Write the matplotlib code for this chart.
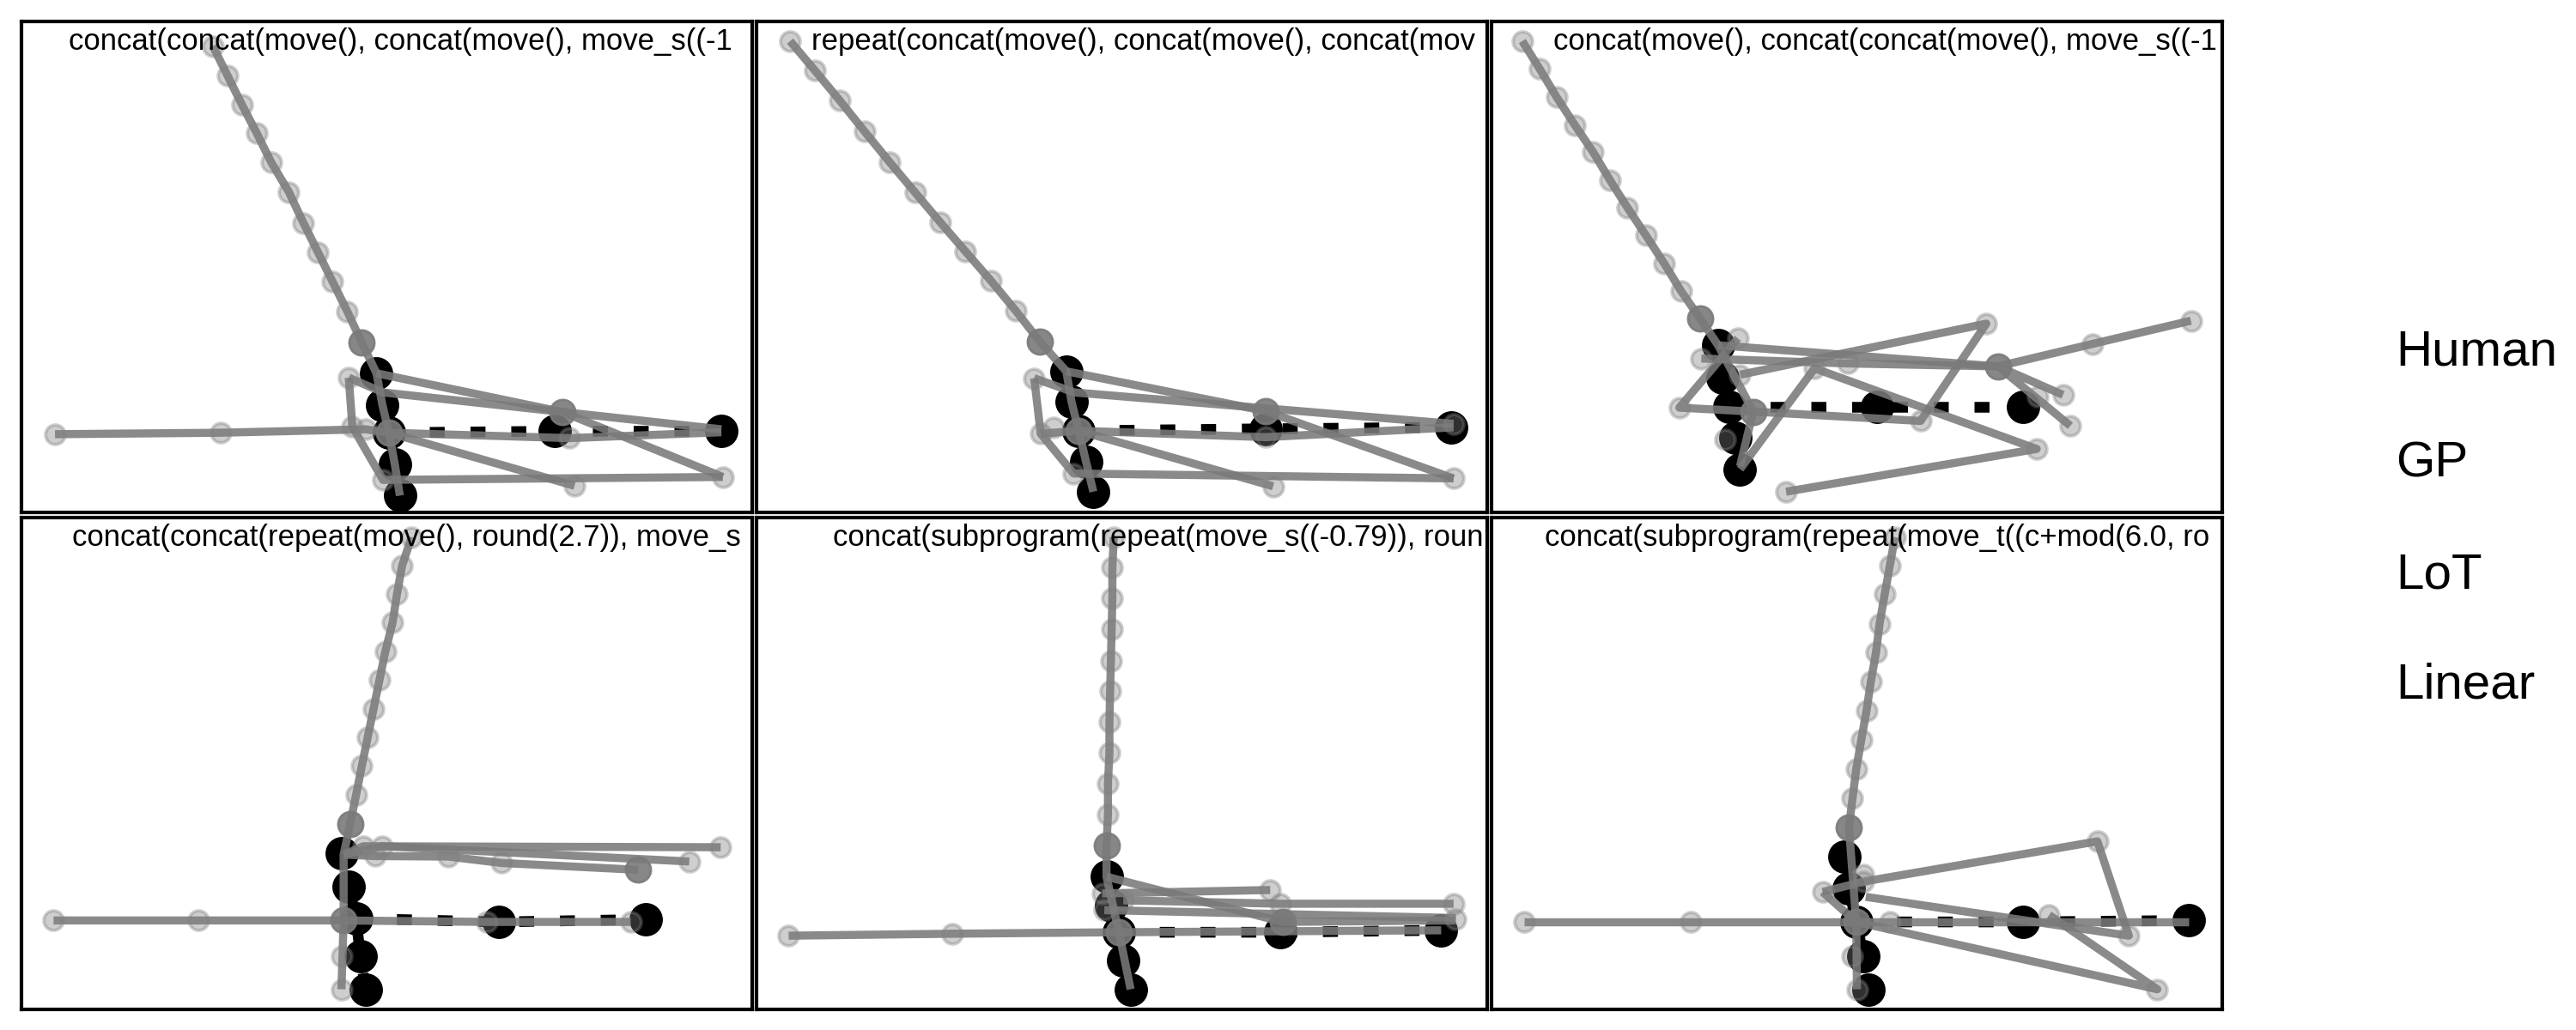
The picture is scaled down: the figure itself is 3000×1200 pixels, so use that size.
import matplotlib
matplotlib.use("Agg")
import matplotlib.pyplot as plt

plt.rcParams['font.family'] = ['Liberation Sans', 'DejaVu Sans']

# panel titles (programs), clipped at the panel edge like the original
titles = [
    "concat(concat(move(), concat(move(), move_s((-1",
    "repeat(concat(move(), concat(move(), concat(mov",
    "concat(move(), concat(concat(move(), move_s((-1",
    "concat(concat(repeat(move(), round(2.7)), move_s",
    "concat(subprogram(repeat(move_s((-0.79)), roun",
    "concat(subprogram(repeat(move_t((c+mod(6.0, ro",
]
title_x = [0.065, 0.075, 0.084, 0.069, 0.104, 0.073]
legend_labels = ["Human", "GP", "LoT", "Linear"]

# ---- panel 1 ----
p1_lines = [
    [(26.2, 95.0), (28.2, 89.0), (30.2, 83.0), (32.2, 77.3), (34.2, 71.3), (36.6, 65.3), (38.6, 59.0),
     (40.6, 53.0), (42.6, 47.0), (44.6, 41.0), (46.6, 34.6), (48.6, 28.4), (49.4, 22.0), (50.3, 16.3),
     (51.1, 9.9), (51.8, 3.5)],
    [(48.6, 28.4), (74.1, 20.5), (96.0, 7.3)],
    [(44.8, 27.5), (45.3, 17.5), (49.5, 6.7), (96.0, 7.3)],
    [(44.8, 27.5), (49.5, 24.5), (95.8, 17.0)],
    [(50.3, 16.3), (75.7, 5.5)],
    [(4.6, 16.0), (27.3, 16.3), (47.1, 17.0), (50.3, 16.3), (75.0, 15.2), (95.8, 16.4)],
]
p1_light = [(26.2, 95.0), (28.2, 89.0), (30.2, 83.0), (32.2, 77.3), (34.2, 71.3), (36.6, 65.3), (38.6, 59.0),
            (40.6, 53.0), (42.6, 47.0), (44.6, 41.0), (44.8, 27.5), (45.3, 17.5), (47.1, 17.0), (49.5, 6.7),
            (96.0, 7.3), (75.7, 5.5), (75.0, 15.2), (4.6, 16.0), (27.3, 16.3)]
p1_mid = [(46.6, 34.6), (74.1, 20.5), (50.3, 16.3)]
p1_human_col = [(48.6, 28.4), (49.4, 22.0), (50.3, 16.3), (51.1, 9.9), (51.8, 3.5)]
p1_human_row = [(50.3, 16.3), (73.0, 16.6), (95.8, 16.6)]

# ---- panel 2 ----
p2_lines = [
    [(4.6, 96.0), (8.0, 90.0), (11.4, 83.9), (14.8, 77.6), (18.2, 71.4), (21.7, 65.2), (25.1, 59.2),
     (28.6, 53.2), (32.1, 47.2), (35.5, 41.1), (38.8, 34.8), (42.4, 28.8), (43.1, 22.7), (44.1, 16.7),
     (45.1, 10.4), (46.1, 4.3)],
    [(42.4, 28.8), (69.7, 20.7), (95.4, 7.0)],
    [(38.0, 27.4), (38.9, 16.1), (43.4, 8.0), (95.4, 7.0)],
    [(38.0, 27.4), (43.5, 24.5), (95.4, 18.1)],
    [(44.1, 16.7), (70.7, 5.4)],
    [(38.9, 16.1), (44.1, 16.7), (69.7, 15.4), (95.4, 17.4)],
]
p2_light = [(4.6, 96.0), (8.0, 90.0), (11.4, 83.9), (14.8, 77.6), (18.2, 71.4), (21.7, 65.2), (25.1, 59.2),
            (28.6, 53.2), (32.1, 47.2), (35.5, 41.1), (38.0, 27.4), (38.9, 16.1), (40.6, 17.4), (43.4, 8.0),
            (70.7, 5.4), (95.4, 7.0), (69.7, 15.4), (95.4, 18.1)]
p2_mid = [(38.8, 34.8), (69.7, 20.7), (44.1, 16.7)]
p2_human_col = [(42.4, 28.8), (43.1, 22.7), (44.1, 16.7), (45.1, 10.4), (46.1, 4.3)]
p2_human_row = [(44.1, 16.7), (69.7, 17.1), (95.1, 17.4)]

# ---- panel 3 ----
p3_lines = [
    [(4.2, 96.0), (6.6, 90.3), (8.9, 84.6), (11.4, 78.9), (13.9, 73.4), (16.2, 67.7), (18.6, 62.1),
     (21.1, 56.5), (23.6, 50.8), (25.9, 45.2), (28.5, 39.6), (31.0, 34.1), (35.8, 20.6), (34.0, 9.5)],
    [(31.0, 34.1), (69.3, 29.8), (82.3, 34.4), (95.7, 39.1)],
    [(28.7, 31.4), (48.8, 30.4), (69.3, 29.8)],
    [(78.2, 24.0), (69.3, 29.8), (79.2, 17.7)],
    [(33.7, 35.5), (25.7, 21.4), (35.8, 20.6), (58.7, 18.7), (67.7, 38.5), (34.0, 28.1)],
    [(34.0, 8.9), (44.2, 29.4), (74.6, 13.0), (40.3, 4.3)],
]
p3_light = [(4.2, 96.0), (6.6, 90.3), (8.9, 84.6), (11.4, 78.9), (13.9, 73.4), (16.2, 67.7), (18.6, 62.1),
            (21.1, 56.5), (23.6, 50.8), (25.9, 45.2), (28.7, 31.4), (48.8, 30.4), (82.3, 34.4), (95.7, 39.1),
            (78.2, 24.0), (74.7, 23.7), (79.2, 17.7), (33.7, 35.5), (25.7, 21.4), (58.7, 18.7), (67.7, 38.5),
            (34.0, 28.1), (44.2, 29.4), (74.6, 13.0), (40.3, 4.3), (32.0, 14.9)]
p3_mid = [(28.5, 39.6), (35.8, 20.6), (69.3, 29.8)]
p3_human_col = [(31.0, 34.1), (31.6, 27.5), (32.5, 21.5), (33.4, 15.3), (34.0, 8.9)]
p3_human_row = [(32.5, 21.5), (52.7, 21.5), (72.7, 21.5)]

# ---- panel 4 ----
p4_lines = [
    [(53.4, 96.1), (52.1, 90.3), (51.4, 84.5), (50.8, 78.7), (49.8, 72.8), (49.0, 67.0), (48.2, 61.2),
     (47.4, 55.4), (46.6, 49.6), (45.8, 43.6), (45.0, 37.8), (44.1, 31.5), (44.1, 18.1), (43.8, 4.1)],
    [(4.4, 18.1), (24.2, 18.1), (44.1, 18.1), (63.7, 17.8), (83.4, 17.8)],
    [(44.1, 31.5), (46.8, 33.2), (95.7, 33.0)],
    [(44.1, 31.5), (49.4, 33.2), (91.4, 30.1)],
    [(44.1, 31.5), (48.4, 31.2), (58.4, 31.1), (65.7, 29.8), (84.4, 28.4)],
]
p4_light = [(53.4, 96.1), (52.1, 90.3), (51.4, 84.5), (50.8, 78.7), (49.8, 72.8), (49.0, 67.0), (48.2, 61.2),
            (47.4, 55.4), (46.6, 49.6), (45.8, 43.6), (46.8, 33.2), (48.4, 31.2), (49.4, 33.2), (58.4, 31.1),
            (65.7, 29.8), (95.7, 33.0), (91.4, 30.1), (4.4, 18.1), (24.2, 18.1), (63.7, 17.8), (83.4, 17.8),
            (43.8, 10.9), (43.8, 4.1)]
p4_mid = [(45.0, 37.8), (84.4, 28.4), (44.1, 18.1)]
p4_human_col = [(43.8, 31.8), (44.8, 25.0), (45.8, 18.5), (46.4, 10.9), (47.1, 4.1)]
p4_human_row = [(45.8, 18.5), (65.4, 17.8), (85.4, 18.3)]

# ---- panel 5 ----
p5_lines = [
    [(48.9, 96.1), (48.7, 89.9), (48.7, 83.6), (48.6, 77.3), (48.5, 71.0), (48.4, 64.8), (48.3, 58.5),
     (48.3, 52.2), (48.1, 46.0), (48.1, 39.7), (47.9, 33.3), (47.9, 27.0), (49.6, 15.7), (51.2, 4.1)],
    [(4.4, 15.0), (26.8, 15.4), (49.6, 15.7), (71.7, 15.9), (93.7, 16.1)],
    [(47.9, 27.0), (72.0, 17.8), (95.7, 18.1)],
    [(47.3, 23.6), (70.3, 24.3)],
    [(50.2, 22.2), (71.7, 21.5), (95.4, 21.5)],
    [(47.6, 20.2), (95.7, 18.6)],
]
p5_light = [(48.9, 96.1), (48.7, 89.9), (48.7, 83.6), (48.6, 77.3), (48.5, 71.0), (48.4, 64.8), (48.3, 58.5),
            (48.3, 52.2), (48.1, 46.0), (48.1, 39.7), (47.3, 23.6), (47.6, 20.2), (50.2, 22.2), (70.3, 24.3),
            (71.7, 21.5), (95.4, 21.5), (95.7, 18.4), (4.4, 15.0), (26.8, 15.4)]
p5_mid = [(47.9, 33.3), (72.0, 17.8), (49.6, 15.7)]
p5_human_col = [(47.9, 27.0), (48.5, 21.2), (49.6, 15.7), (50.2, 9.9), (51.2, 4.1)]
p5_human_row = [(49.6, 15.7), (71.7, 15.7), (93.7, 16.1)]

# ---- panel 6 ----
p6_lines = [
    [(55.2, 96.1), (54.5, 90.3), (53.8, 84.5), (53.1, 78.5), (52.6, 72.6), (51.9, 66.7), (51.3, 60.7),
     (50.6, 54.9), (49.9, 48.9), (49.4, 43.0), (48.9, 37.1), (49.9, 17.8), (50.0, 4.1)],
    [(4.5, 17.8), (27.2, 17.8), (49.9, 17.8), (54.5, 17.8), (95.4, 17.8)],
    [(50.9, 26.0), (82.9, 34.2), (87.2, 15.0), (51.2, 22.9)],
    [(45.3, 23.9), (50.9, 26.0)],
    [(45.3, 23.9), (49.9, 17.8)],
    [(49.9, 17.8), (91.1, 4.1), (76.3, 19.2)],
]
p6_light = [(55.2, 96.1), (54.5, 90.3), (53.8, 84.5), (53.1, 78.5), (52.6, 72.6), (51.9, 66.7), (51.3, 60.7),
            (50.6, 54.9), (49.9, 48.9), (49.4, 43.0), (50.9, 26.0), (50.9, 27.4), (82.9, 34.2), (87.2, 15.0),
            (45.3, 23.9), (54.5, 17.8), (76.3, 19.2), (91.1, 4.1), (49.3, 10.9), (50.0, 4.1), (4.5, 17.8),
            (27.2, 17.8)]
p6_mid = [(48.9, 37.1), (49.9, 17.8)]
p6_human_col = [(48.3, 31.1), (48.9, 24.6), (49.9, 17.8), (50.9, 10.9), (51.6, 4.1)]
p6_human_row = [(49.9, 17.8), (72.7, 17.8), (95.4, 18.1)]

panels = [
    (p1_lines, p1_light, p1_mid, p1_human_col, p1_human_row),
    (p2_lines, p2_light, p2_mid, p2_human_col, p2_human_row),
    (p3_lines, p3_light, p3_mid, p3_human_col, p3_human_row),
    (p4_lines, p4_light, p4_mid, p4_human_col, p4_human_row),
    (p5_lines, p5_light, p5_mid, p5_human_col, p5_human_row),
    (p6_lines, p6_light, p6_mid, p6_human_col, p6_human_row),
]

LINE_GRAY = '#7a7a7a'


def xy(pts):
    return [p[0] for p in pts], [p[1] for p in pts]


fig, axes = plt.subplots(2, 3, figsize=(15, 6), dpi=200)
fig.subplots_adjust(left=0.0083, right=0.8627, top=0.9792, bottom=0.02, wspace=0.006, hspace=0.0105)

for ax, (lines, light, mid, hcol, hrow), title, tx in zip(axes.flat, panels, titles, title_x):
    # human: black dots joined by a thick dashed line
    for seg in (hcol, hrow):
        xs, ys = xy(seg)
        ax.plot(xs, ys, color='black', lw=4.5, dashes=(1.4, 2.4), dash_capstyle='butt', zorder=2)
    xs, ys = xy(hcol + hrow[1:])
    ax.plot(xs, ys, 'o', ls='none', color='black', ms=13, zorder=2)

    # model trajectories
    for seg in lines:
        xs, ys = xy(seg)
        ax.plot(xs, ys, color=LINE_GRAY, alpha=0.88, lw=3.4, solid_capstyle='butt', zorder=3)
    xs, ys = xy(light)
    ax.plot(xs, ys, 'o', ls='none', ms=8.2, mfc='#808080', mec='#808080', mew=1.4, alpha=0.38, zorder=4)
    xs, ys = xy(mid)
    ax.plot(xs, ys, 'o', ls='none', ms=10.5, color=LINE_GRAY, alpha=0.9, zorder=4)

    ax.set_xlim(0, 100)
    ax.set_ylim(0, 100)
    ax.set_xticks([])
    ax.set_yticks([])
    for sp in ax.spines.values():
        sp.set_linewidth(1.5)
        sp.set_color('black')

    ax.text(tx, 0.988, title, transform=ax.transAxes, ha='left', va='top',
            fontsize=12.5, clip_on=True, zorder=6)

# legend labels on the right (no handles)
for lab, yy in zip(legend_labels, [0.6454, 0.5370, 0.4286, 0.3218]):
    fig.text(0.9300, yy, lab, fontsize=21, ha='left', va='baseline')

fig.savefig('out.png', dpi=200)
